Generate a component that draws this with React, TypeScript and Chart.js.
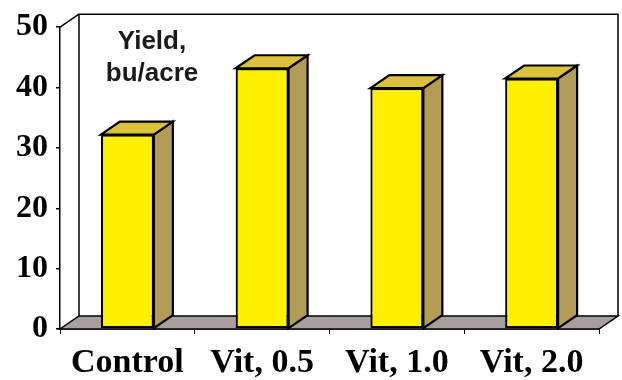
import React, { useEffect, useRef } from "react";
import { Chart, registerables } from "chart.js";

Chart.register(...registerables);

const categories = ["Control", "Vit, 0.5", "Vit, 1.0", "Vit, 2.0"];
const yieldValues = [32.2, 43.2, 39.9, 41.5];
const yMin = 0;
const yMax = 50;
const yStep = 10;
const titleLines = ["Yield,", "bu/acre"];

const DX = 19;
const DY = -13;
const FRONT = "#FFF000";
const TOP = "#DCC23C";
const SIDE = "#B29C56";
const FLOOR = "#A89E9E";

const threeD = {
  id: "threeD",
  beforeDatasetsDraw(chart: any) {
    const { ctx, chartArea: a } = chart;
    ctx.save();
    ctx.lineJoin = "miter";
    ctx.strokeStyle = "#000";
    ctx.lineWidth = 1.5;
    // back wall
    ctx.beginPath();
    ctx.moveTo(a.left + DX, a.bottom + DY);
    ctx.lineTo(a.left + DX, a.top + DY);
    ctx.lineTo(a.right + DX, a.top + DY);
    ctx.lineTo(a.right + DX, a.bottom + DY);
    ctx.stroke();
    // top-left diagonal
    ctx.beginPath();
    ctx.moveTo(a.left, a.top);
    ctx.lineTo(a.left + DX, a.top + DY);
    ctx.stroke();
    // floor
    ctx.beginPath();
    ctx.moveTo(a.left, a.bottom);
    ctx.lineTo(a.right, a.bottom);
    ctx.lineTo(a.right + DX, a.bottom + DY);
    ctx.lineTo(a.left + DX, a.bottom + DY);
    ctx.closePath();
    ctx.fillStyle = FLOOR;
    ctx.fill();
    ctx.stroke();
    // bar top and side faces
    const meta = chart.getDatasetMeta(0);
    ctx.lineWidth = 2.2;
    meta.data.forEach((bar: any) => {
      const { x, y, base, width } = bar.getProps(["x", "y", "base", "width"], true);
      const l = x - width / 2;
      const r = x + width / 2;
      ctx.beginPath();
      ctx.moveTo(r, y);
      ctx.lineTo(r + DX, y + DY);
      ctx.lineTo(r + DX, base + DY);
      ctx.lineTo(r, base);
      ctx.closePath();
      ctx.fillStyle = SIDE;
      ctx.fill();
      ctx.stroke();
      ctx.beginPath();
      ctx.moveTo(l, y);
      ctx.lineTo(l + DX, y + DY);
      ctx.lineTo(r + DX, y + DY);
      ctx.lineTo(r, y);
      ctx.closePath();
      ctx.fillStyle = TOP;
      ctx.fill();
      ctx.stroke();
    });
    ctx.restore();
  },
  afterDatasetsDraw(chart: any) {
    const { ctx, chartArea: a } = chart;
    ctx.save();
    ctx.fillStyle = "#1a1a1a";
    ctx.font = 'bold 26px "Liberation Sans", Arial, sans-serif';
    ctx.textAlign = "center";
    ctx.textBaseline = "alphabetic";
    ctx.fillText(titleLines[0], a.left + 92, a.top + 22);
    ctx.fillText(titleLines[1], a.left + 92, a.top + 54);
    ctx.restore();
  },
};

export default function App() {
  const ref = useRef<HTMLCanvasElement>(null);
  useEffect(() => {
    document.body.style.margin = "0";
    const chart = new Chart(ref.current as HTMLCanvasElement, {
      type: "bar",
      data: {
        labels: categories,
        datasets: [
          {
            data: yieldValues,
            backgroundColor: FRONT,
            borderColor: "#000",
            borderWidth: 2.2,
            borderSkipped: false,
            barPercentage: 0.393,
            categoryPercentage: 1,
          },
        ],
      },
      options: {
        responsive: false,
        animation: false,
        layout: { padding: { top: 23, right: 23, left: 0, bottom: 0 } },
        plugins: { legend: { display: false }, tooltip: { enabled: false }, title: { display: false } },
        scales: {
          x: {
            afterFit: (s: any) => {
              s.height = 51;
            },
            grid: { drawOnChartArea: false, drawTicks: true, tickLength: 5, color: "#000", lineWidth: 1 },
            border: { display: true, color: "#000", width: 1.5 },
            ticks: {
              color: "#000",
              padding: 9,
              font: { family: '"Liberation Serif", "Times New Roman", serif', size: 34, weight: "bold" },
            },
          },
          y: {
            min: yMin,
            max: yMax,
            afterFit: (s: any) => {
              s.width = 60;
            },
            grid: { drawOnChartArea: false, drawTicks: true, tickLength: 4, color: "#000", lineWidth: 1.5 },
            border: { display: true, color: "#000", width: 1.5 },
            ticks: {
              stepSize: yStep,
              color: "#000",
              padding: 8,
              font: { family: '"Liberation Serif", "Times New Roman", serif', size: 32, weight: "bold" },
            },
          },
        },
      },
      plugins: [threeD],
    } as any);
    return () => chart.destroy();
  }, []);
  return (
    <div style={{ width: 622, height: 380, background: "#fff" }}>
      <canvas ref={ref} width={622} height={380} />
    </div>
  );
}
